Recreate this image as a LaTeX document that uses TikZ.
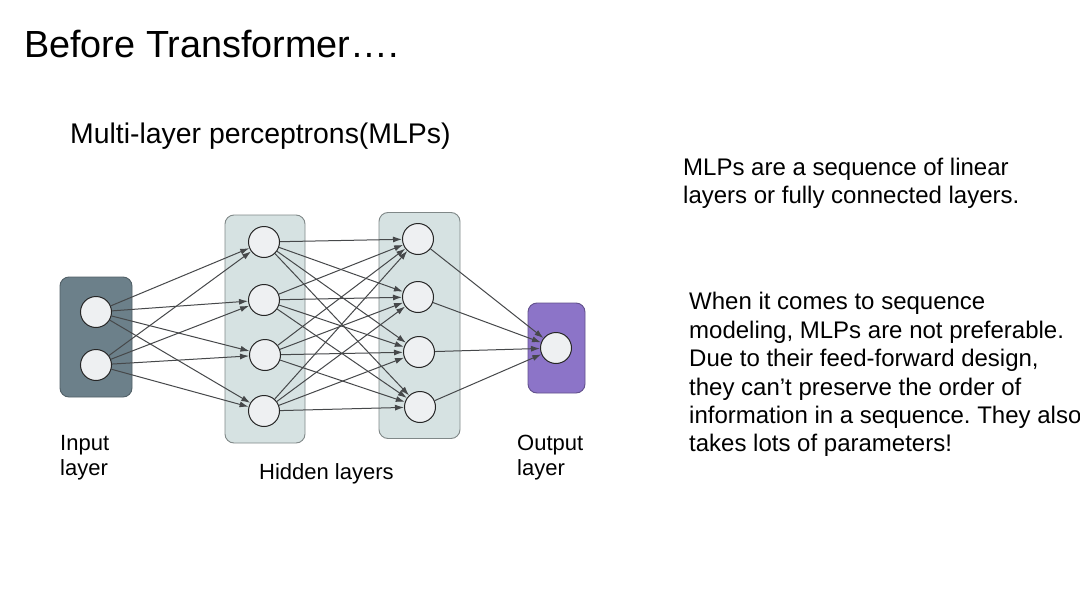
\documentclass[tikz,border=0pt]{standalone}
\usepackage{fontspec}
\setmainfont{Liberation Sans}
\frenchspacing
\usetikzlibrary{arrows.meta}
\usetikzlibrary{positioning}
\definecolor{inslate}{RGB}{108,128,138}
\definecolor{hidgray}{RGB}{214,226,226}
\definecolor{outpurple}{RGB}{140,116,200}
\definecolor{cellfill}{RGB}{238,240,242}
\definecolor{edgegray}{RGB}{70,72,74}
\tikzset{neuron/.style = {draw=black!85, circle, fill=cellfill, line width=1pt,
                          inner sep=0, minimum size=31}}
\tikzset{layerbox/.style = {rounded corners=9, line width=0.9pt, inner sep=0}}
\tikzset{edge/.style = {draw=edgegray, line width=1pt, -{Latex[length=9pt, width=6pt]}}}
\tikzset{lbl/.style = {anchor=base west, inner sep=0, align=left}}

\begin{document}
\begin{tikzpicture}[x=1pt, y=-1pt]
      \useasboundingbox [fill=white] (0, 0) rectangle (1080, 608);

      % headings
      \node [lbl, font=\fontsize{37.8}{42}\selectfont] (title) at (24, 57) {Before Transformer….};
      \node [lbl, font=\fontsize{28.4}{32}\selectfont] (sub) at (70, 143) {Multi-layer perceptrons(MLPs)};

      % layer boxes
      \node [layerbox, fill=inslate, draw=inslate!75!black, minimum width=72, minimum height=120] (inbox) at (96, 337) {};
      \node [layerbox, fill=hidgray, draw=hidgray!60!black, minimum width=80, minimum height=228] (hidA) at (265, 329) {};
      \node [layerbox, fill=hidgray, draw=hidgray!60!black, minimum width=81, minimum height=226] (hidB) at (419.5, 325.5) {};
      \node [layerbox, fill=outpurple, draw=outpurple!70!black, minimum width=57, minimum height=90] (outbox) at (556.5, 348) {};

      % neurons
      \node [neuron] (i1) at (96, 312) {};
      \node [neuron] (i2) at (96, 365) {};
      \node [neuron] (a1) at (264, 242) {};
      \node [neuron] (a2) at (264, 300) {};
      \node [neuron] (a3) at (265, 355) {};
      \node [neuron] (a4) at (264, 411) {};
      \node [neuron] (b1) at (418, 239) {};
      \node [neuron] (b2) at (418, 297) {};
      \node [neuron] (b3) at (419, 352) {};
      \node [neuron] (b4) at (420, 407) {};
      \node [neuron] (o1) at (556, 348) {};

      % connections
      \foreach \s in {i1, i2}
        \foreach \t in {a1, a2, a3, a4}
          \draw [edge] (\s) -- (\t);
      \foreach \s in {a1, a2, a3, a4}
        \foreach \t in {b1, b2, b3, b4}
          \draw [edge] (\s) -- (\t);
      \foreach \s in {b1, b2, b3, b4}
        \draw [edge] (\s) -- (o1);

      % layer names (base = last line)
      \node [lbl, font=\fontsize{22}{25}\selectfont] (inname) at (60, 475) {Input\\layer};
      \node [lbl, font=\fontsize{22}{25}\selectfont] (hidname) at (259, 479) {Hidden layers};
      \node [lbl, font=\fontsize{22}{25}\selectfont] (outname) at (517, 475) {Output\\layer};

      % notes
      \node [lbl, font=\fontsize{24}{28.3}\selectfont] (noteA) at (683, 203.3)
            {MLPs are a sequence of linear\\layers or fully connected layers.};
      \node [lbl, font=\fontsize{24}{28.35}\selectfont] (noteB) at (689, 451.7)
            {When it comes to sequence\\modeling, MLPs are not preferable.\\Due to their feed-forward design,\\they can’t preserve the order of\\information in a sequence. They also\\takes lots of parameters!};
    \end{tikzpicture}
\end{document}
